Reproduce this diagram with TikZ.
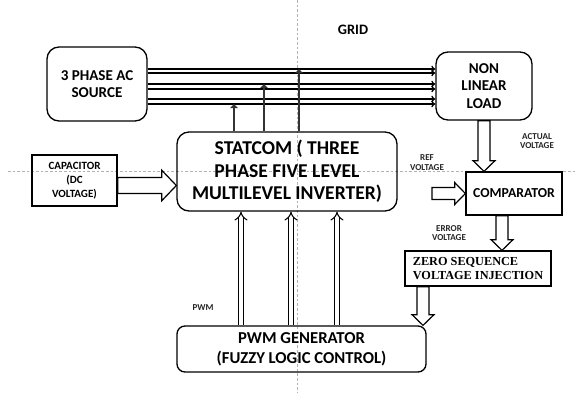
\documentclass[tikz,border=0pt]{standalone}
\usepackage{fontspec}
\setmainfont{Carlito}
\newfontfamily\zsfont{Liberation Serif}
\usetikzlibrary{arrows.meta,calc}

\tikzset{
  rbox/.style={draw, line width=1pt, rounded corners=9pt, align=center, font=\bfseries},
  sbox/.style={draw, line width=1pt, align=center, font=\bfseries},
  tag/.style={align=center, text=black!85, font=\bfseries\fontsize{6.8}{7.4}\selectfont},
  bus/.style={line width=1pt, -{To[length=3pt,width=5pt]}},
  tap/.style={line width=2.2pt, draw=black!80, -{Triangle[length=3pt,width=5.5pt]}},
  gate/.style={double, double distance=2.6pt, line width=0.8pt, -{Implies}},
  guide/.style={gray!60, line width=0.4pt, dash pattern=on 2pt off 1.5pt},
  % hollow block arrow: shaft half width, head half width, head length
  blockarrow/.style n args={3}{draw, line width=0.9pt, fill=white, to path={
    let \p1=(\tikztostart), \p2=(\tikztotarget),
        \n1={atan2(\y2-\y1,\x2-\x1)}, \n2={veclen(\x2-\x1,\y2-\y1)-#3}
    in ($(\p1)+(\n1+90:#1)$) -- ($(\p1)+(\n1:\n2)+(\n1+90:#1)$)
    -- ($(\p1)+(\n1:\n2)+(\n1+90:#2)$) -- (\p2)
    -- ($(\p1)+(\n1:\n2)+(\n1-90:#2)$) -- ($(\p1)+(\n1:\n2)+(\n1-90:#1)$)
    -- ($(\p1)+(\n1-90:#1)$) -- cycle}}
}

\begin{document}
\begin{tikzpicture}[x=0.75pt, y=-0.75pt]
    \useasboundingbox (0,0) rectangle (577,393);

    % page guides
    \draw[guide] (8,171) -- (577,171);
    \draw[guide] (297,0) -- (297,393);

    % blocks
    \node[rbox, minimum width=75pt, minimum height=55.5pt, font=\bfseries\fontsize{11.3}{13.3}\selectfont] (src) at (97,84) {3 PHASE AC\\SOURCE};
    \node[rbox, minimum width=72pt, minimum height=51pt, font=\bfseries\fontsize{11.3}{13.3}\selectfont] (load) at (484,86) {NON\\LINEAR\\LOAD};
    \node[rbox, minimum width=165pt, minimum height=59.25pt, font=\bfseries\fontsize{14.7}{17}\selectfont] (statcom) at (287,171.5) {STATCOM ( THREE\\PHASE FIVE LEVEL\\MULTILEVEL INVERTER)};
    \node[sbox, minimum width=63.75pt, minimum height=38.25pt, font=\bfseries\fontsize{8.3}{10.3}\selectfont] (cap) at (74.5,180.5) {CAPACITOR\\(DC\\VOLTAGE)};
    \node[sbox, minimum width=72pt, minimum height=32.25pt, font=\bfseries\fontsize{10.3}{12}\selectfont] (comp) at (514,193.5) {COMPARATOR};
    \node[sbox, minimum width=109.5pt, minimum height=26.25pt, align=left, font=\zsfont\bfseries\fontsize{9.2}{10.5}\selectfont] (zsvi) at (478,268.5) {ZERO SEQUENCE\\VOLTAGE INJECTION};
    \node[rbox, rounded corners=6pt, minimum width=186.75pt, minimum height=34.5pt, font=\bfseries\fontsize{12.5}{15}\selectfont] (pwmgen) at (301.5,349) {PWM GENERATOR\\(FUZZY LOGIC CONTROL)};

    % labels
    \node[font=\bfseries\fontsize{10.8}{12}\selectfont] (grid) at (353,30) {GRID};
    \node[tag] (ref) at (427,163) {REF\\VOLTAGE};
    \node[tag] (actual) at (537,141) {ACTUAL\\VOLTAGE};
    \node[tag] (error) at (449,233) {ERROR\\VOLTAGE};
    \node[tag] (pwm) at (203,308) {PWM};

    % three phase lines
    \foreach \by in {69,73,84,89,99,104}
        \draw[bus] (src.east |- 0,\by) -- (load.west |- 0,\by);

    % statcom taps
    \foreach \tx/\ty in {234/104,264/84,299/69}
        \draw[tap] (statcom.north -| \tx,0) -- (\tx,\ty);

    % gate signals
    \foreach \gx in {241,291,337}
        \draw[gate] (pwmgen.north -| \gx,0) -- (statcom.south -| \gx,0);

    % control loop
    \coordinate (refin) at (432,193.5);
    \draw[blockarrow={6pt}{11.5pt}{11pt}] (cap.east |- 0,185.5) to (statcom.west |- 0,185.5);
    \draw[blockarrow={4.5pt}{8.25pt}{8pt}] (load.south) to (load.south |- comp.north);
    \draw[blockarrow={4.5pt}{8.25pt}{8pt}] (refin) to (comp.west);
    \draw[blockarrow={4.5pt}{8.25pt}{8pt}] (comp.south -| 502,0) to (zsvi.north -| 502,0);
    \draw[blockarrow={4.5pt}{8.25pt}{8pt}] (zsvi.south -| 423,0) to (pwmgen.north -| 423,0);
\end{tikzpicture}
\end{document}
